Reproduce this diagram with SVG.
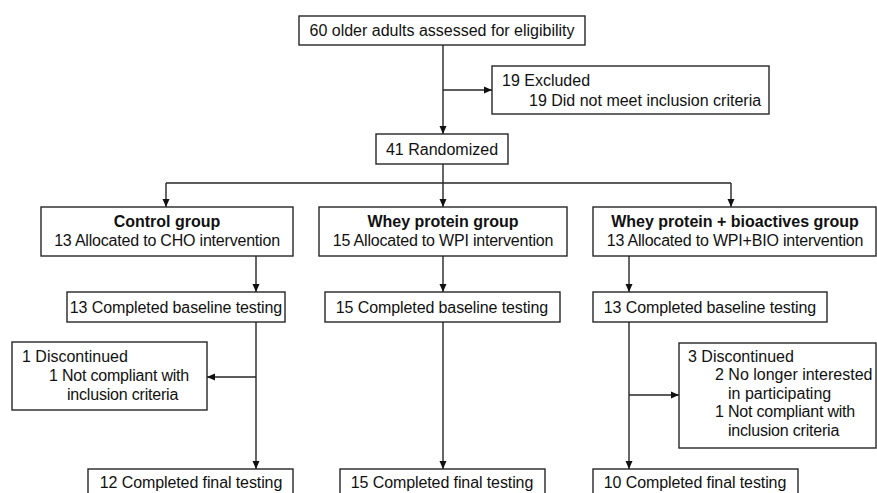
<svg xmlns="http://www.w3.org/2000/svg" width="877" height="493" viewBox="0 0 877 493">
<defs>
<style>
.box{fill:#fff;stroke:#262626;stroke-width:1.4}
.t{font-family:"Liberation Sans",Arial,sans-serif;font-size:16px;fill:#111}
.c{text-anchor:middle}
.b{font-weight:bold}
.ln{fill:none;stroke:#262626;stroke-width:1.4}
</style>
<marker id="ah" markerUnits="userSpaceOnUse" markerWidth="10" markerHeight="10" viewBox="0 0 10 10" refX="9" refY="5" orient="auto">
<path d="M1,1.5 L9,5 L1,8.5 Z" fill="#111"/>
</marker>
</defs>
<rect width="877" height="493" fill="#fff"/>
<g id="connectors">
<line class="ln" x1="443" y1="45" x2="443" y2="134" marker-end="url(#ah)"/>
<line class="ln" x1="443" y1="90" x2="492" y2="90" marker-end="url(#ah)"/>
<line class="ln" x1="443" y1="164" x2="443" y2="183"/>
<line class="ln" x1="166" y1="183" x2="731" y2="183"/>
<line class="ln" x1="166" y1="183" x2="166" y2="207" marker-end="url(#ah)"/>
<line class="ln" x1="443" y1="183" x2="443" y2="207" marker-end="url(#ah)"/>
<line class="ln" x1="731" y1="183" x2="731" y2="207" marker-end="url(#ah)"/>
<line class="ln" x1="256" y1="256" x2="256" y2="292" marker-end="url(#ah)"/>
<line class="ln" x1="443" y1="256" x2="443" y2="292" marker-end="url(#ah)"/>
<line class="ln" x1="629" y1="256" x2="629" y2="292" marker-end="url(#ah)"/>
<line class="ln" x1="256" y1="322" x2="256" y2="469" marker-end="url(#ah)"/>
<line class="ln" x1="256" y1="377" x2="207" y2="377" marker-end="url(#ah)"/>
<line class="ln" x1="443" y1="322" x2="443" y2="469" marker-end="url(#ah)"/>
<line class="ln" x1="629" y1="322" x2="629" y2="469" marker-end="url(#ah)"/>
<line class="ln" x1="629" y1="395" x2="679" y2="395" marker-end="url(#ah)"/>
</g>
<g id="assessed">
<rect class="box" x="299" y="16" width="286" height="29"/>
<text class="t c" x="442" y="36">60 older adults assessed for eligibility</text>
</g>
<g id="excluded">
<rect class="box" x="492" y="66" width="277" height="48"/>
<text class="t" x="502" y="86">19 Excluded</text>
<text class="t" x="529" y="106">19 Did not meet inclusion criteria</text>
</g>
<g id="randomized">
<rect class="box" x="376" y="134" width="132" height="30"/>
<text class="t c" x="442" y="155">41 Randomized</text>
</g>
<g id="control">
<rect class="box" x="41" y="207" width="252" height="49"/>
<text class="t c b" x="167" y="227">Control group</text>
<text class="t c" x="167" y="246" letter-spacing="-0.2">13 Allocated to CHO intervention</text>
</g>
<g id="whey">
<rect class="box" x="319" y="207" width="248" height="49"/>
<text class="t c b" x="443" y="227">Whey protein group</text>
<text class="t c" x="443" y="246" letter-spacing="-0.2">15 Allocated to WPI intervention</text>
</g>
<g id="wheybio">
<rect class="box" x="593" y="207" width="283" height="49"/>
<text class="t c b" x="735" y="227">Whey protein + bioactives group</text>
<text class="t c" x="735" y="246" letter-spacing="-0.2">13 Allocated to WPI+BIO intervention</text>
</g>
<g id="baseline-control">
<rect class="box" x="67" y="292" width="218" height="30"/>
<text class="t c" x="176" y="313" letter-spacing="-0.1">13 Completed baseline testing</text>
</g>
<g id="baseline-whey">
<rect class="box" x="325" y="292" width="235" height="30"/>
<text class="t c" x="442" y="313" letter-spacing="-0.1">15 Completed baseline testing</text>
</g>
<g id="baseline-wheybio">
<rect class="box" x="593" y="292" width="234" height="30"/>
<text class="t c" x="710" y="313" letter-spacing="-0.1">13 Completed baseline testing</text>
</g>
<g id="discontinued-control">
<rect class="box" x="12" y="342" width="195" height="68"/>
<text class="t" x="22" y="362">1 Discontinued</text>
<text class="t" x="49" y="381" letter-spacing="-0.2">1 Not compliant with</text>
<text class="t" x="67" y="400" letter-spacing="-0.2">inclusion criteria</text>
</g>
<g id="discontinued-wheybio">
<rect class="box" x="679" y="343" width="197" height="105"/>
<text class="t" x="688" y="362">3 Discontinued</text>
<text class="t" x="715" y="380">2 No longer interested</text>
<text class="t" x="728" y="399">in participating</text>
<text class="t" x="715" y="417" letter-spacing="-0.2">1 Not compliant with</text>
<text class="t" x="728" y="436" letter-spacing="-0.2">inclusion criteria</text>
</g>
<g id="final-control">
<rect class="box" x="88" y="469" width="205" height="32"/>
<text class="t c" x="191" y="488" letter-spacing="-0.1">12 Completed final testing</text>
</g>
<g id="final-whey">
<rect class="box" x="340" y="469" width="205" height="32"/>
<text class="t c" x="442" y="488" letter-spacing="-0.1">15 Completed final testing</text>
</g>
<g id="final-wheybio">
<rect class="box" x="593" y="469" width="205" height="32"/>
<text class="t c" x="695" y="488" letter-spacing="-0.1">10 Completed final testing</text>
</g>
</svg>
